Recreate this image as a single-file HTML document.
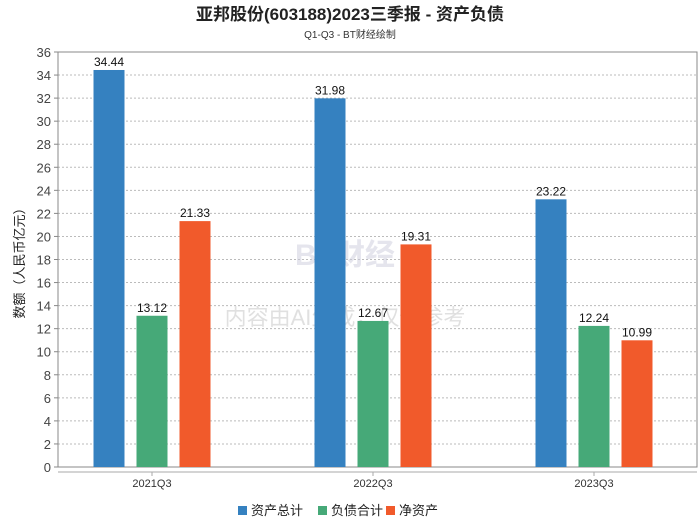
<!DOCTYPE html>
<html><head><meta charset="utf-8"><style>
body{margin:0;background:#fff;font-family:"Liberation Sans","Noto Sans CJK SC",sans-serif}
</style></head><body>
<svg width="700" height="524" xmlns="http://www.w3.org/2000/svg" font-family="Liberation Sans, Noto Sans CJK SC, sans-serif">
<text x="350" y="20" text-anchor="middle" font-size="17" font-weight="bold" fill="#222">亚邦股份(603188)2023三季报 - 资产负债</text>
<text x="350" y="38" text-anchor="middle" font-size="10" fill="#333">Q1-Q3 - BT财经绘制</text>
<g id="grid"></g>
<text x="345" y="265" text-anchor="middle" font-size="30" font-weight="bold" fill="#ccd" opacity="0.5">BT财经</text>
<text x="345" y="325" text-anchor="middle" font-size="22" fill="#ccc" opacity="0.6">内容由AI生成，仅供参考</text>
<g id="bars"></g>
<text transform="translate(24,260) rotate(-90)" text-anchor="middle" font-size="13" fill="#222">数额（人民币亿元）</text>
<g id="legend"></g>
</svg>
<script>
const categories=["2021Q3","2022Q3","2023Q3"];
const seriesNames=["资产总计","负债合计","净资产"];
const assets=[34.44,31.98,23.22];
const liabilities=[13.12,12.67,12.24];
const equity=[21.33,19.31,10.99];
const yTicks=[0,2,4,6,8,10,12,14,16,18,20,22,24,26,28,30,32,34,36];
const colors=["#3581c0","#46a978","#f15a2b"];
const NS="http://www.w3.org/2000/svg";
const L=58,R=697,T=52,B=467,yMax=36;
const y=v=>B-(v/yMax)*(B-T);
const xc=i=>152+i*221;
function mk(tag,attrs,parent,txt){const e=document.createElementNS(NS,tag);for(const k in attrs)e.setAttribute(k,attrs[k]);if(txt!==undefined)e.textContent=txt;parent.appendChild(e);return e;}
const g=document.getElementById('grid');
yTicks.forEach(t=>{
  if(t>0){const l=mk('line',{x1:L,x2:R,y1:y(t),y2:y(t),stroke:'#bbb','stroke-dasharray':'2,2'},g);
  
  }
  const tx=mk('text',{x:L-7,y:y(t)+5,'text-anchor':'end','font-size':13,fill:'#444'},g,t);
  
  
  mk('line',{x1:L-4,x2:L,y1:y(t),y2:y(t),stroke:'#888'},g);
});
mk('rect',{x:L,y:T,width:R-L,height:B-T,fill:'none',stroke:'#888'},g);
mk('line',{x1:L,x2:R,y1:B+5,y2:B+5,stroke:'#aaa'},g);
const bg=document.getElementById('bars');
const data=[assets,liabilities,equity];
categories.forEach((c,i)=>{
  mk('line',{x1:xc(i),x2:xc(i),y1:B+5,y2:B+9,stroke:'#aaa'},bg);
  const cl=mk('text',{x:xc(i),y:B+20,'text-anchor':'middle','font-size':11,fill:'#333'},bg,c);
  
  
  data.forEach((s,j)=>{
    const cx=xc(i)+(j-1)*43;
    const r=mk('rect',{x:cx-15.5,y:y(s[i]),width:31,height:B-y(s[i]),fill:colors[j]},bg);
    
    
    const lb=mk('text',{x:cx,y:y(s[i])-4,'text-anchor':'middle','font-size':12,fill:'#111'},bg,s[i].toFixed(2));
    
    
  });
});
const lg=document.getElementById('legend');
const lx=[238,318,386];
seriesNames.forEach((n,j)=>{
  const it=mk('g',{},lg);
  
  
  mk('rect',{x:lx[j],y:506,width:9,height:9,fill:colors[j]},it);
  mk('text',{x:lx[j]+13,y:515,'font-size':13,fill:'#222'},it,n);
});
</script>
</body></html>
